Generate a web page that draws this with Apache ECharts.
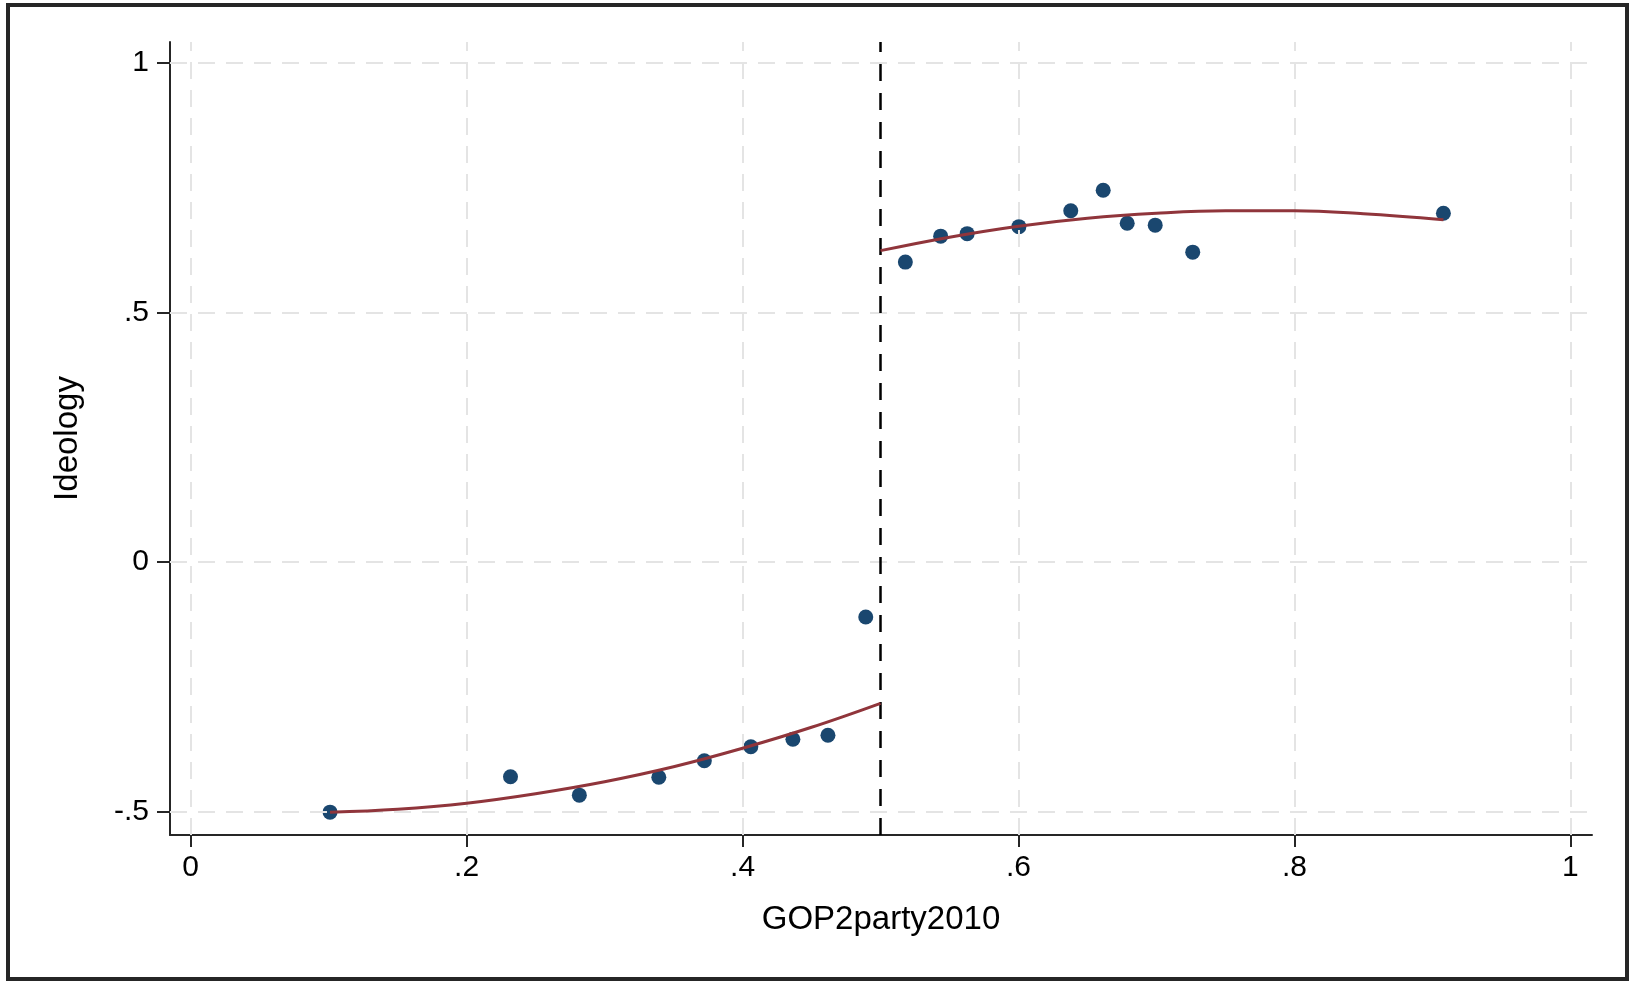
<!DOCTYPE html>
<html>
<head>
<meta charset="utf-8">
<script src="https://cdn.jsdelivr.net/npm/echarts@6/dist/echarts.min.js"></script>
<style>
  html, body { margin: 0; padding: 0; background: #ffffff; }
  #chart { width: 1633px; height: 983px; }
</style>
</head>
<body>
<div id="chart"></div>
<script>
// Binned scatter points
const binX = [0.1010, 0.2318, 0.2817, 0.3393, 0.3723, 0.4060, 0.4365, 0.4619, 0.4893,
              0.5180, 0.5436, 0.5628, 0.6003, 0.6379, 0.6614, 0.6788, 0.6991, 0.7263, 0.9080];
const binY = [-0.501, -0.430, -0.467, -0.431, -0.398, -0.370, -0.355, -0.347, -0.110,
              0.601, 0.653, 0.658, 0.672, 0.704, 0.745, 0.679, 0.675, 0.621, 0.699];

// Fitted curve below the cutoff
const fitLeftX = [0.101, 0.15, 0.20, 0.25, 0.30, 0.35, 0.40, 0.45, 0.50];
const fitLeftY = [-0.501, -0.495, -0.483, -0.464, -0.440, -0.410, -0.373, -0.331, -0.283];
// Fitted curve above the cutoff
const fitRightX = [0.50, 0.55, 0.60, 0.65, 0.70, 0.75, 0.80, 0.85, 0.908];
const fitRightY = [0.624, 0.651, 0.673, 0.689, 0.699, 0.704, 0.704, 0.698, 0.686];

const cutoff = 0.5;
const xTicks = [0, 0.2, 0.4, 0.6, 0.8, 1];
const yTicks = [-0.5, 0, 0.5, 1];
const xTitle = 'GOP2party2010';
const yTitle = 'Ideology';

const zip = (a, b) => a.map((v, i) => [v, b[i]]);
const fmt = v => {
  if (Math.abs(v) < 1e-9) return '0';
  let s = String(Math.round(v * 1000) / 1000);
  return s.replace(/^(-?)0\./, '$1.');
};

const FONT = "'Liberation Sans', Arial, Helvetica, sans-serif";
const chart = echarts.init(document.getElementById('chart'), null, { renderer: 'canvas' });

const gridLineStyle = { color: '#e4e4e4', width: 2, type: [17, 11] };
const axisColor = '#262626';

chart.setOption({
  animation: false,
  backgroundColor: '#ffffff',
  textStyle: { fontFamily: FONT },
  grid: { left: 170, right: 41, top: 42, bottom: 148, containLabel: false },
  xAxis: {
    type: 'value',
    min: -0.015, max: 1.0157,
    name: xTitle,
    nameLocation: 'middle',
    nameGap: 68,
    nameTextStyle: { fontSize: 33, color: '#000', fontFamily: FONT },
    axisLine: { show: true, onZero: false, lineStyle: { color: axisColor, width: 2, type: 'solid' } },
    axisTick: { show: true, customValues: xTicks, length: 12, lineStyle: { color: axisColor, width: 2 } },
    axisLabel: { customValues: xTicks, formatter: fmt, fontSize: 30, color: '#000', margin: 18, fontFamily: FONT },
    splitLine: { show: false }
  },
  yAxis: {
    type: 'value',
    min: -0.5468, max: 1.042,
    name: yTitle,
    nameLocation: 'middle',
    nameGap: 86,
    nameRotate: 90,
    nameTextStyle: { fontSize: 33, color: '#000', fontFamily: FONT },
    axisLine: { show: true, onZero: false, lineStyle: { color: axisColor, width: 2, type: 'solid' } },
    axisTick: { show: true, customValues: yTicks, length: 13, lineStyle: { color: axisColor, width: 2 } },
    axisLabel: { customValues: yTicks, formatter: fmt, fontSize: 30, color: '#000', margin: 21, fontFamily: FONT },
    splitLine: { show: false }
  },
  graphic: [{
    type: 'rect',
    silent: true,
    shape: { x: 8, y: 5, width: 1619, height: 974 },
    style: { fill: 'none', stroke: '#262626', lineWidth: 4 },
    z: 100
  }],
  series: [
    {
      name: 'grid',
      type: 'line',
      data: [],
      silent: true,
      z: 1,
      markLine: {
        silent: true,
        symbol: ['none', 'none'],
        label: { show: false },
        lineStyle: gridLineStyle,
        emphasis: { disabled: true },
        data: xTicks.map(v => ({ xAxis: v })).concat(yTicks.map(v => ({ yAxis: v })))
      }
    },
    {
      name: 'cutoff',
      type: 'line',
      data: [],
      silent: true,
      z: 3,
      markLine: {
        silent: true,
        symbol: ['none', 'none'],
        label: { show: false },
        lineStyle: { color: '#000', width: 2.5, type: [17, 12] },
        emphasis: { disabled: true },
        data: [{ xAxis: cutoff }]
      }
    },
    {
      name: 'bins',
      type: 'scatter',
      data: zip(binX, binY),
      symbol: 'circle',
      symbolSize: 15,
      itemStyle: { color: '#1a476f', opacity: 1 },
      z: 4
    },
    {
      name: 'fitLeft',
      type: 'line',
      data: zip(fitLeftX, fitLeftY),
      smooth: 0.4,
      showSymbol: false,
      lineStyle: { color: '#90353b', width: 3 },
      z: 5
    },
    {
      name: 'fitRight',
      type: 'line',
      data: zip(fitRightX, fitRightY),
      smooth: 0.4,
      showSymbol: false,
      lineStyle: { color: '#90353b', width: 3 },
      z: 5
    }
  ]
});
</script>
</body>
</html>
